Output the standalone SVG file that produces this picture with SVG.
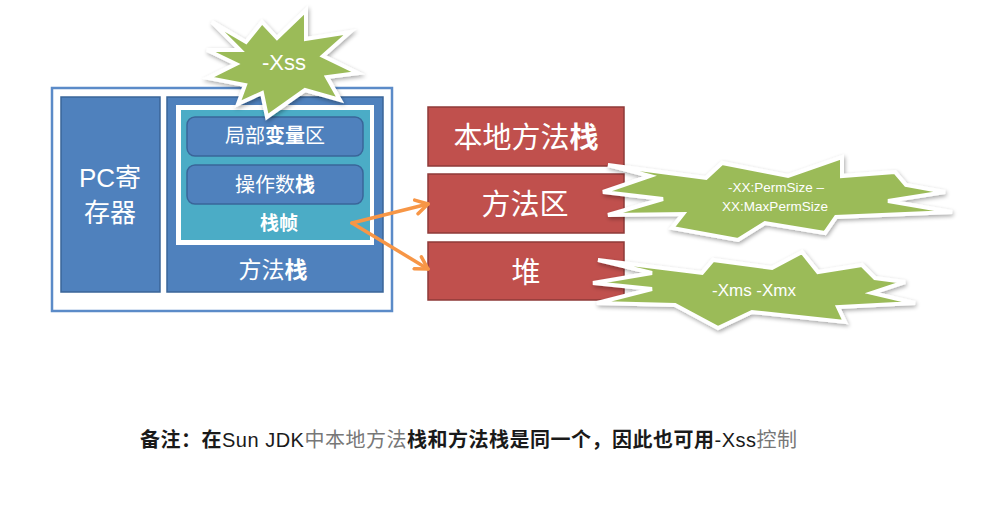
<svg xmlns="http://www.w3.org/2000/svg" width="1007" height="506" viewBox="0 0 1007 506">
<defs>
<style>
.blue{fill:#4f81bd;stroke:#3a6599;stroke-width:1.5}
.red{fill:#c0504d;stroke:#8e3a38;stroke-width:1.5}
.burst{fill:#9bbb59;stroke:#ffffff;stroke-width:4;stroke-linejoin:miter;filter:url(#sh)}
.cjk{font-family:"Noto Sans CJK SC","Liberation Sans",sans-serif;fill:#ffffff;text-anchor:middle}
.lat{font-family:"Liberation Sans","Noto Sans CJK SC",sans-serif;fill:#ffffff;text-anchor:middle}
.arrow{fill:none;stroke:#f79646;stroke-width:3.5;stroke-linecap:round;marker-end:url(#ah)}
.cj{font-family:"Noto Sans CJK SC",sans-serif}
</style>
<filter id="sh" x="-20%" y="-30%" width="140%" height="160%">
<feGaussianBlur in="SourceAlpha" stdDeviation="2"/>
<feOffset dx="1" dy="2" result="b"/>
<feComponentTransfer><feFuncA type="linear" slope="0.35"/></feComponentTransfer>
<feMerge><feMergeNode/><feMergeNode in="SourceGraphic"/></feMerge>
</filter>
<marker id="ah" markerWidth="18" markerHeight="18" refX="14" refY="9" orient="auto" markerUnits="userSpaceOnUse" viewBox="0 0 18 18">
<path d="M2,2 L14,9 L2,16" fill="none" stroke="#f79646" stroke-width="3.5" stroke-linecap="round" stroke-linejoin="round"/>
</marker>
</defs>
<rect width="1007" height="506" fill="#ffffff"/>

<g id="jvm-frame">
<rect x="52" y="88" width="340" height="223" fill="#ffffff" stroke="#5b8bc8" stroke-width="2.5"/>
</g>

<g id="pc-register">
<rect class="blue" x="61" y="97" width="99" height="195"/>
<text class="lat" font-size="26" x="110" y="187">PC寄</text>
<text class="cjk" font-size="26" x="110" y="222">存器</text>
</g>

<g id="method-stack">
<rect class="blue" x="167" y="97" width="216" height="195"/>
<text class="cjk" font-size="23" x="273" y="278">方法<tspan font-weight="bold">栈</tspan></text>
</g>

<g id="stack-frame">
<rect x="176" y="105" width="198" height="140" fill="#ffffff"/>
<rect x="181" y="110" width="189" height="130" fill="#4bacc6"/>
<text class="cjk" font-size="19" font-weight="bold" x="279" y="230">栈帧</text>
</g>

<g id="local-vars">
<rect class="blue" x="187" y="117" width="176" height="39" rx="8"/>
<text class="cjk" font-size="20" x="275" y="143">局部<tspan font-weight="bold">变量</tspan>区</text>
</g>

<g id="operand-stack">
<rect class="blue" x="187" y="165" width="176" height="39" rx="8"/>
<text class="cjk" font-size="20" x="275" y="192">操作数<tspan font-weight="bold">栈</tspan></text>
</g>

<g id="native-stack">
<rect class="red" x="428" y="107" width="196" height="59"/>
<text class="cjk" font-size="29" x="526" y="148">本地方法<tspan font-weight="bold">栈</tspan></text>
</g>

<g id="method-area">
<rect class="red" x="428" y="174" width="196" height="59"/>
<text class="cjk" font-size="29" x="525" y="215">方法区</text>
</g>

<g id="heap">
<rect class="red" x="428" y="242" width="196" height="58"/>
<text class="cjk" font-size="29" x="526" y="283">堆</text>
</g>

<g id="connectors">
<path class="arrow" d="M352,223 L428,204"/>
<path class="arrow" d="M352,223 L428,269"/>
</g>

<g id="xss">
<polygon class="burst" points="212,22 246,42 262,22 277,38 306,10 306,39 350,32 323,56 358,73 327,77 340,100 305,90 267,117 262,93 238,104 245,85 208,78 236,64 207,50 240,50"/>
<text class="lat" font-size="22" x="284" y="70">-Xss</text>
</g>

<g id="permsize">
<polygon class="burst" points="608,165 650,176 603,192 663,199 608,215 683,214 672,228 738,240 765,223 825,233 836,217 952,212 888,201 945,192 906,185 895,172 842,176 842,157 788,176 722,163 706,178"/>
<text class="lat" font-size="13.5" x="776" y="192">-XX:PermSize –</text>
<text class="lat" font-size="13.5" x="775" y="211">XX:MaxPermSize</text>
</g>

<g id="xms">
<polygon class="burst" points="598,260 652,273 593,283 652,289 597,303 675,305 718,328 752,312 845,322 838,307 915,303 872,293 905,282 875,278 862,265 818,272 802,252 772,268 713,260 702,273"/>
<text class="lat" font-size="17" x="754" y="296">-Xms -Xmx</text>
</g>

<g id="note">
<text font-family="'Liberation Sans','Noto Sans CJK SC',sans-serif" font-size="20" x="140" y="447" fill="#1a1a1a" textLength="657" lengthAdjust="spacing"><tspan class="cj" font-weight="bold">备注：在</tspan>Sun JDK<tspan class="cj" fill="#777777">中本地方法</tspan><tspan class="cj" font-weight="bold">栈和方法栈是同一个，因此也可用</tspan>-Xss<tspan class="cj" fill="#777777">控制</tspan></text>
</g>
</svg>
